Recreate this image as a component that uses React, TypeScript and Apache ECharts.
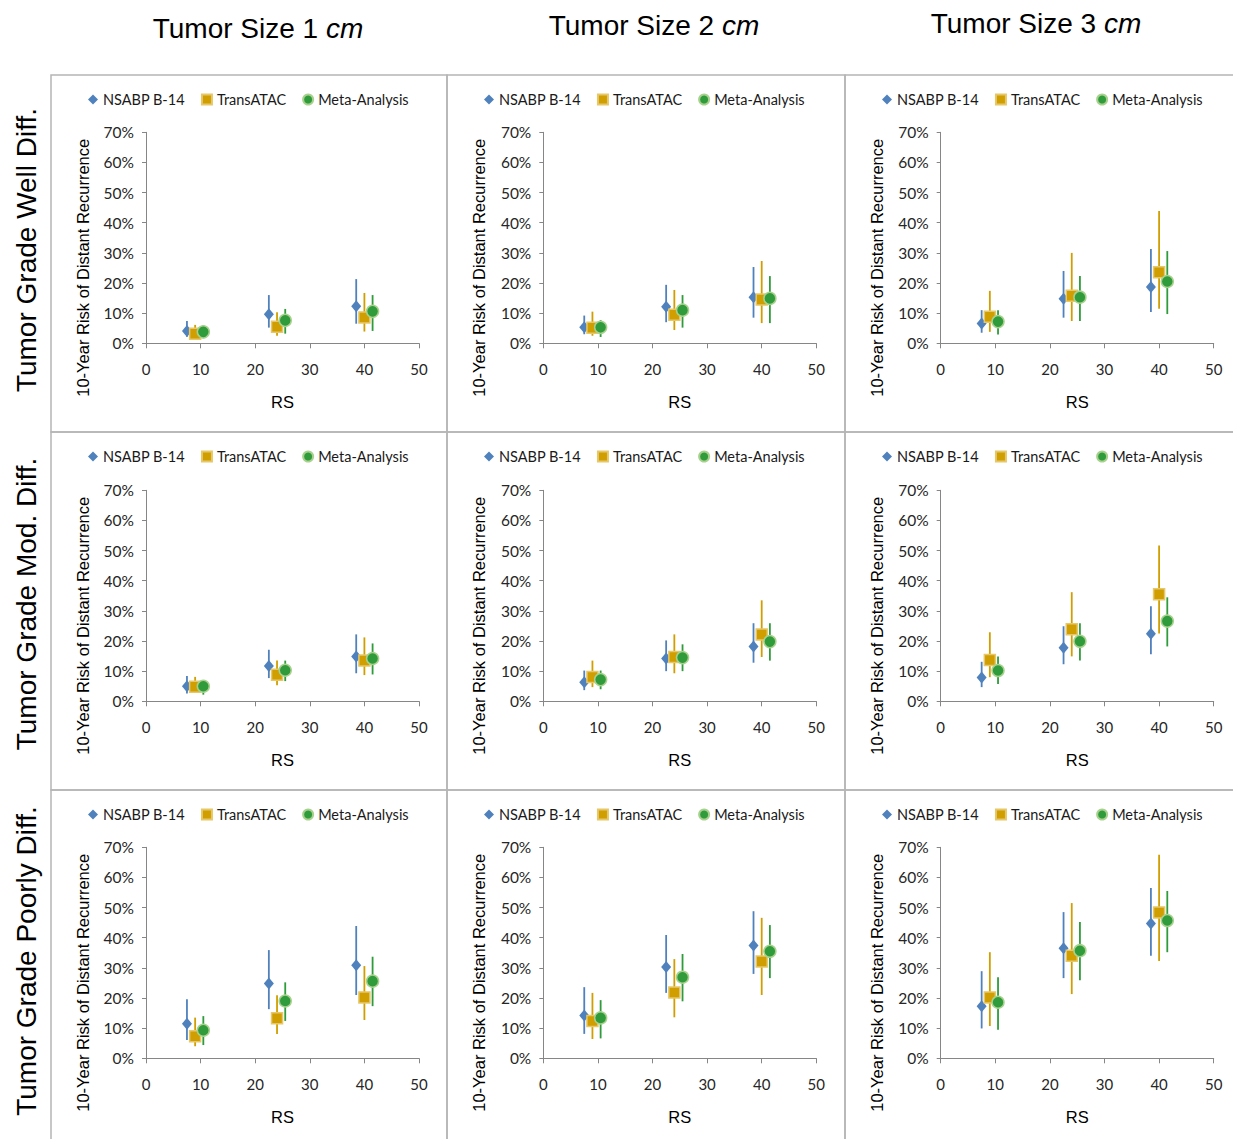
import React, { useEffect, useRef } from 'react';
import * as echarts from 'echarts';

// ---------- data ----------
const seriesNames = ['NSABP B-14', 'TransATAC', 'Meta-Analysis'];
const rowLabels = ['Tumor Grade Well Diff.', 'Tumor Grade Mod. Diff.', 'Tumor Grade Poorly Diff.'];
const colSizes = ['1', '2', '3'];
const yAxisTitle = '10-Year Risk of Distant Recurrence';
const xAxisTitle = 'RS';

// RS positions of each study's points
const rsNSABP = [7.5, 22.5, 38.5];
const rsTrans = [9, 24, 40];
const rsMeta = [10.5, 25.5, 41.5];

// [row (grade)][col (size)][point] in %
const nsabpEst = [
  [[4.1, 9.6, 12.3], [5.3, 12.1, 15.3], [6.6, 14.8, 18.7]],
  [[5.0, 11.7, 14.9], [6.3, 14.2, 18.2], [7.9, 17.8, 22.4]],
  [[11.5, 24.8, 30.9], [14.2, 30.3, 37.4], [17.3, 36.5, 44.7]],
];
const nsabpLo = [
  [[2.2, 5.2, 6.5], [3.0, 7.0, 8.5], [3.5, 8.5, 10.4]],
  [[2.6, 7.7, 9.3], [3.7, 10.0, 12.8], [4.7, 12.3, 15.6]],
  [[6.1, 16.3, 21.0], [8.1, 21.7, 28.0], [9.9, 26.6, 34.0]],
];
const nsabpHi = [
  [[7.4, 16.0, 21.3], [9.2, 19.4, 25.3], [11.0, 24.0, 31.3]],
  [[8.4, 17.1, 22.2], [10.2, 20.2, 25.9], [13.1, 24.9, 31.5]],
  [[19.6, 35.9, 43.9], [23.6, 40.9, 48.8], [28.9, 48.5, 56.5]],
];
const transEst = [
  [[3.2, 5.5, 8.6], [5.2, 9.5, 14.5], [8.8, 15.8, 23.6]],
  [[4.8, 8.8, 13.5], [8.1, 14.7, 22.2], [13.7, 23.9, 35.5]],
  [[7.3, 13.3, 20.2], [12.4, 21.8, 32.1], [20.2, 34.0, 48.4]],
];
const transLo = [
  [[1.7, 2.5, 3.9], [2.5, 4.4, 6.7], [3.8, 7.4, 11.5]],
  [[2.8, 5.3, 8.7], [4.7, 9.3, 14.7], [8.0, 14.9, 22.5]],
  [[4.0, 8.1, 12.7], [6.4, 13.6, 21.0], [10.7, 21.3, 32.3]],
];
const transHi = [
  [[6.1, 10.3, 16.7], [10.5, 17.7, 27.3], [17.4, 30.0, 43.9]],
  [[8.1, 13.5, 21.2], [13.5, 22.2, 33.5], [22.9, 36.2, 51.7]],
  [[13.5, 20.9, 30.6], [21.7, 32.9, 46.6], [35.2, 51.5, 67.5]],
];
const metaEst = [
  [[3.8, 7.6, 10.6], [5.3, 11.0, 14.9], [7.2, 15.3, 20.5]],
  [[5.0, 10.3, 14.2], [7.2, 14.5, 19.8], [10.2, 19.9, 26.6]],
  [[9.3, 19.0, 25.6], [13.4, 26.9, 35.5], [18.6, 35.7, 45.7]],
];
const metaLo = [
  [[1.7, 3.2, 4.1], [2.1, 5.2, 6.7], [2.9, 7.4, 9.7]],
  [[2.2, 6.7, 8.9], [4.0, 10.0, 13.5], [5.7, 13.5, 18.2]],
  [[4.4, 12.4, 17.3], [6.6, 18.9, 26.6], [9.5, 25.9, 35.2]],
];
const metaHi = [
  [[5.9, 11.4, 16.0], [7.7, 16.0, 22.3], [11.0, 22.3, 30.6]],
  [[6.8, 13.5, 19.2], [10.2, 18.9, 25.9], [14.9, 25.9, 34.5]],
  [[14.0, 25.2, 33.7], [19.3, 34.6, 44.2], [26.9, 45.2, 55.5]],
];

// ---------- layout ----------
const W = 1233;
const H = 1139;
const colEdges = [51, 447, 845, 1236];
const rowEdges = [75, 432, 790, 1142];
const plotLeft = [146, 543.3, 940.7];
const plotTop = [132.3, 490.3, 847.3];
const plotW = 273;
const plotH = 211;
const titleX = [258, 654, 1036];
const titleY = [28, 25, 23];
const rowLabelY = [250, 604, 961];

const COLORS = ['#4F81BD', '#D09E00', '#2F9B3A'];
const SANS = '"Liberation Sans", Arial, sans-serif';
const LABEL_FONT = 'Lato, "Open Sans", sans-serif';

export default function App() {
  const ref = useRef<HTMLDivElement>(null);

  useEffect(() => {
    if (!ref.current) return;
    const chart = echarts.init(ref.current, null, { renderer: 'svg' });

    const grid: any[] = [];
    const xAxis: any[] = [];
    const yAxis: any[] = [];
    const legend: any[] = [];
    const series: any[] = [];
    const graphic: any[] = [];

    const studies = [
      { x: rsNSABP, est: nsabpEst, lo: nsabpLo, hi: nsabpHi, symbol: 'diamond', size: [10, 12], border: '#4F81BD' },
      { x: rsTrans, est: transEst, lo: transLo, hi: transHi, symbol: 'rect', size: 11, border: '#E6C86A' },
      { x: rsMeta, est: metaEst, lo: metaLo, hi: metaHi, symbol: 'circle', size: 12, border: '#A9D18E' },
    ];

    for (let r = 0; r < 3; r++) {
      for (let c = 0; c < 3; c++) {
        const idx = r * 3 + c;
        // panel border
        graphic.push({
          type: 'rect',
          shape: { x: colEdges[c], y: rowEdges[r], width: colEdges[c + 1] - colEdges[c], height: rowEdges[r + 1] - rowEdges[r] },
          style: { fill: 'none', stroke: '#B5B5B5', lineWidth: 1.5 },
          silent: true,
          z: 0,
        });
        // y axis title (offset below plot centre as in the original)
        graphic.push({
          type: 'text',
          x: colEdges[c] + 32,
          y: plotTop[r] + 135.5,
          rotation: Math.PI / 2,
          silent: true,
          style: {
            text: yAxisTitle,
            align: 'center',
            verticalAlign: 'middle',
            fontFamily: SANS,
            fontSize: 16.5,
            fill: '#000',
          },
        });
        grid.push({ left: plotLeft[c], top: plotTop[r], width: plotW, height: plotH });
        xAxis.push({
          type: 'value', gridIndex: idx, min: 0, max: 50, interval: 10,
          name: xAxisTitle, nameLocation: 'middle', nameGap: 50,
          nameTextStyle: { fontFamily: SANS, fontSize: 16.5, color: '#000' },
          axisLine: { show: true, lineStyle: { color: '#868686', width: 1 } },
          axisTick: { show: true, length: 5, lineStyle: { color: '#868686' } },
          axisLabel: { fontFamily: LABEL_FONT, fontSize: 15, color: '#262626', margin: 18 },
          splitLine: { show: false },
        });
        yAxis.push({
          type: 'value', gridIndex: idx, min: 0, max: 70, interval: 10,
          axisLine: { show: true, lineStyle: { color: '#868686', width: 1 } },
          axisTick: { show: true, length: 4, lineStyle: { color: '#868686' } },
          axisLabel: { fontFamily: LABEL_FONT, fontSize: 15.5, color: '#262626', margin: 12, formatter: '{value}%' },
          splitLine: { show: false },
        });
        legend.push({
          data: seriesNames,
          left: colEdges[c] + 37,
          top: rowEdges[r] + 17,
          itemWidth: 10,
          itemHeight: 10,
          itemGap: 16,
          padding: 0,
          textStyle: { fontFamily: LABEL_FONT, fontSize: 14.5, color: '#1a1a1a' },
        });

        studies.forEach((s, k) => {
          const color = COLORS[k];
          const bars = s.x.map((xv, i) => [xv, s.lo[r][c][i], s.hi[r][c][i]]);
          series.push({
            type: 'custom',
            name: seriesNames[k] + ' CI',
            xAxisIndex: idx,
            yAxisIndex: idx,
            data: bars,
            encode: { x: 0, y: [1, 2] },
            z: 2,
            silent: true,
            renderItem: (params: any, api: any) => {
              const xv = api.value(0);
              const p1 = api.coord([xv, api.value(1)]);
              const p2 = api.coord([xv, api.value(2)]);
              return {
                type: 'line',
                shape: { x1: p1[0], y1: p1[1], x2: p2[0], y2: p2[1] },
                style: { stroke: color, lineWidth: 1.8 },
              };
            },
          });
          series.push({
            type: 'scatter',
            name: seriesNames[k],
            xAxisIndex: idx,
            yAxisIndex: idx,
            symbol: s.symbol,
            symbolSize: s.size,
            z: 3,
            itemStyle: { color, borderColor: s.border, borderWidth: k === 0 ? 0 : 1.5, opacity: 1 },
            data: s.x.map((xv, i) => [xv, s.est[r][c][i]]),
          });
        });
      }
    }

    // column titles
    colSizes.forEach((sz, c) => {
      graphic.push({
        type: 'text',
        x: titleX[c],
        y: titleY[c],
        silent: true,
        style: {
          text: `{n|Tumor Size ${sz} }{i|cm}`,
          align: 'center',
          verticalAlign: 'middle',
          rich: {
            n: { fontFamily: SANS, fontSize: 28, fill: '#000', color: '#000' },
            i: { fontFamily: SANS, fontSize: 28, fontStyle: 'italic', fill: '#000', color: '#000' },
          },
        },
      });
    });
    // row labels
    rowLabels.forEach((lab, r) => {
      graphic.push({
        type: 'text',
        x: 26,
        y: rowLabelY[r],
        rotation: Math.PI / 2,
        silent: true,
        style: {
          text: lab,
          align: 'center',
          verticalAlign: 'middle',
          fontFamily: SANS,
          fontSize: 28,
          fill: '#000',
        },
      });
    });

    chart.setOption({
      animation: false,
      backgroundColor: '#fff',
      grid,
      xAxis,
      yAxis,
      legend,
      series,
      graphic,
      tooltip: { show: false },
    });
    return () => chart.dispose();
  }, []);

  return <div ref={ref} style={{ position: 'absolute', left: 0, top: 0, width: W, height: H }} />;
}
